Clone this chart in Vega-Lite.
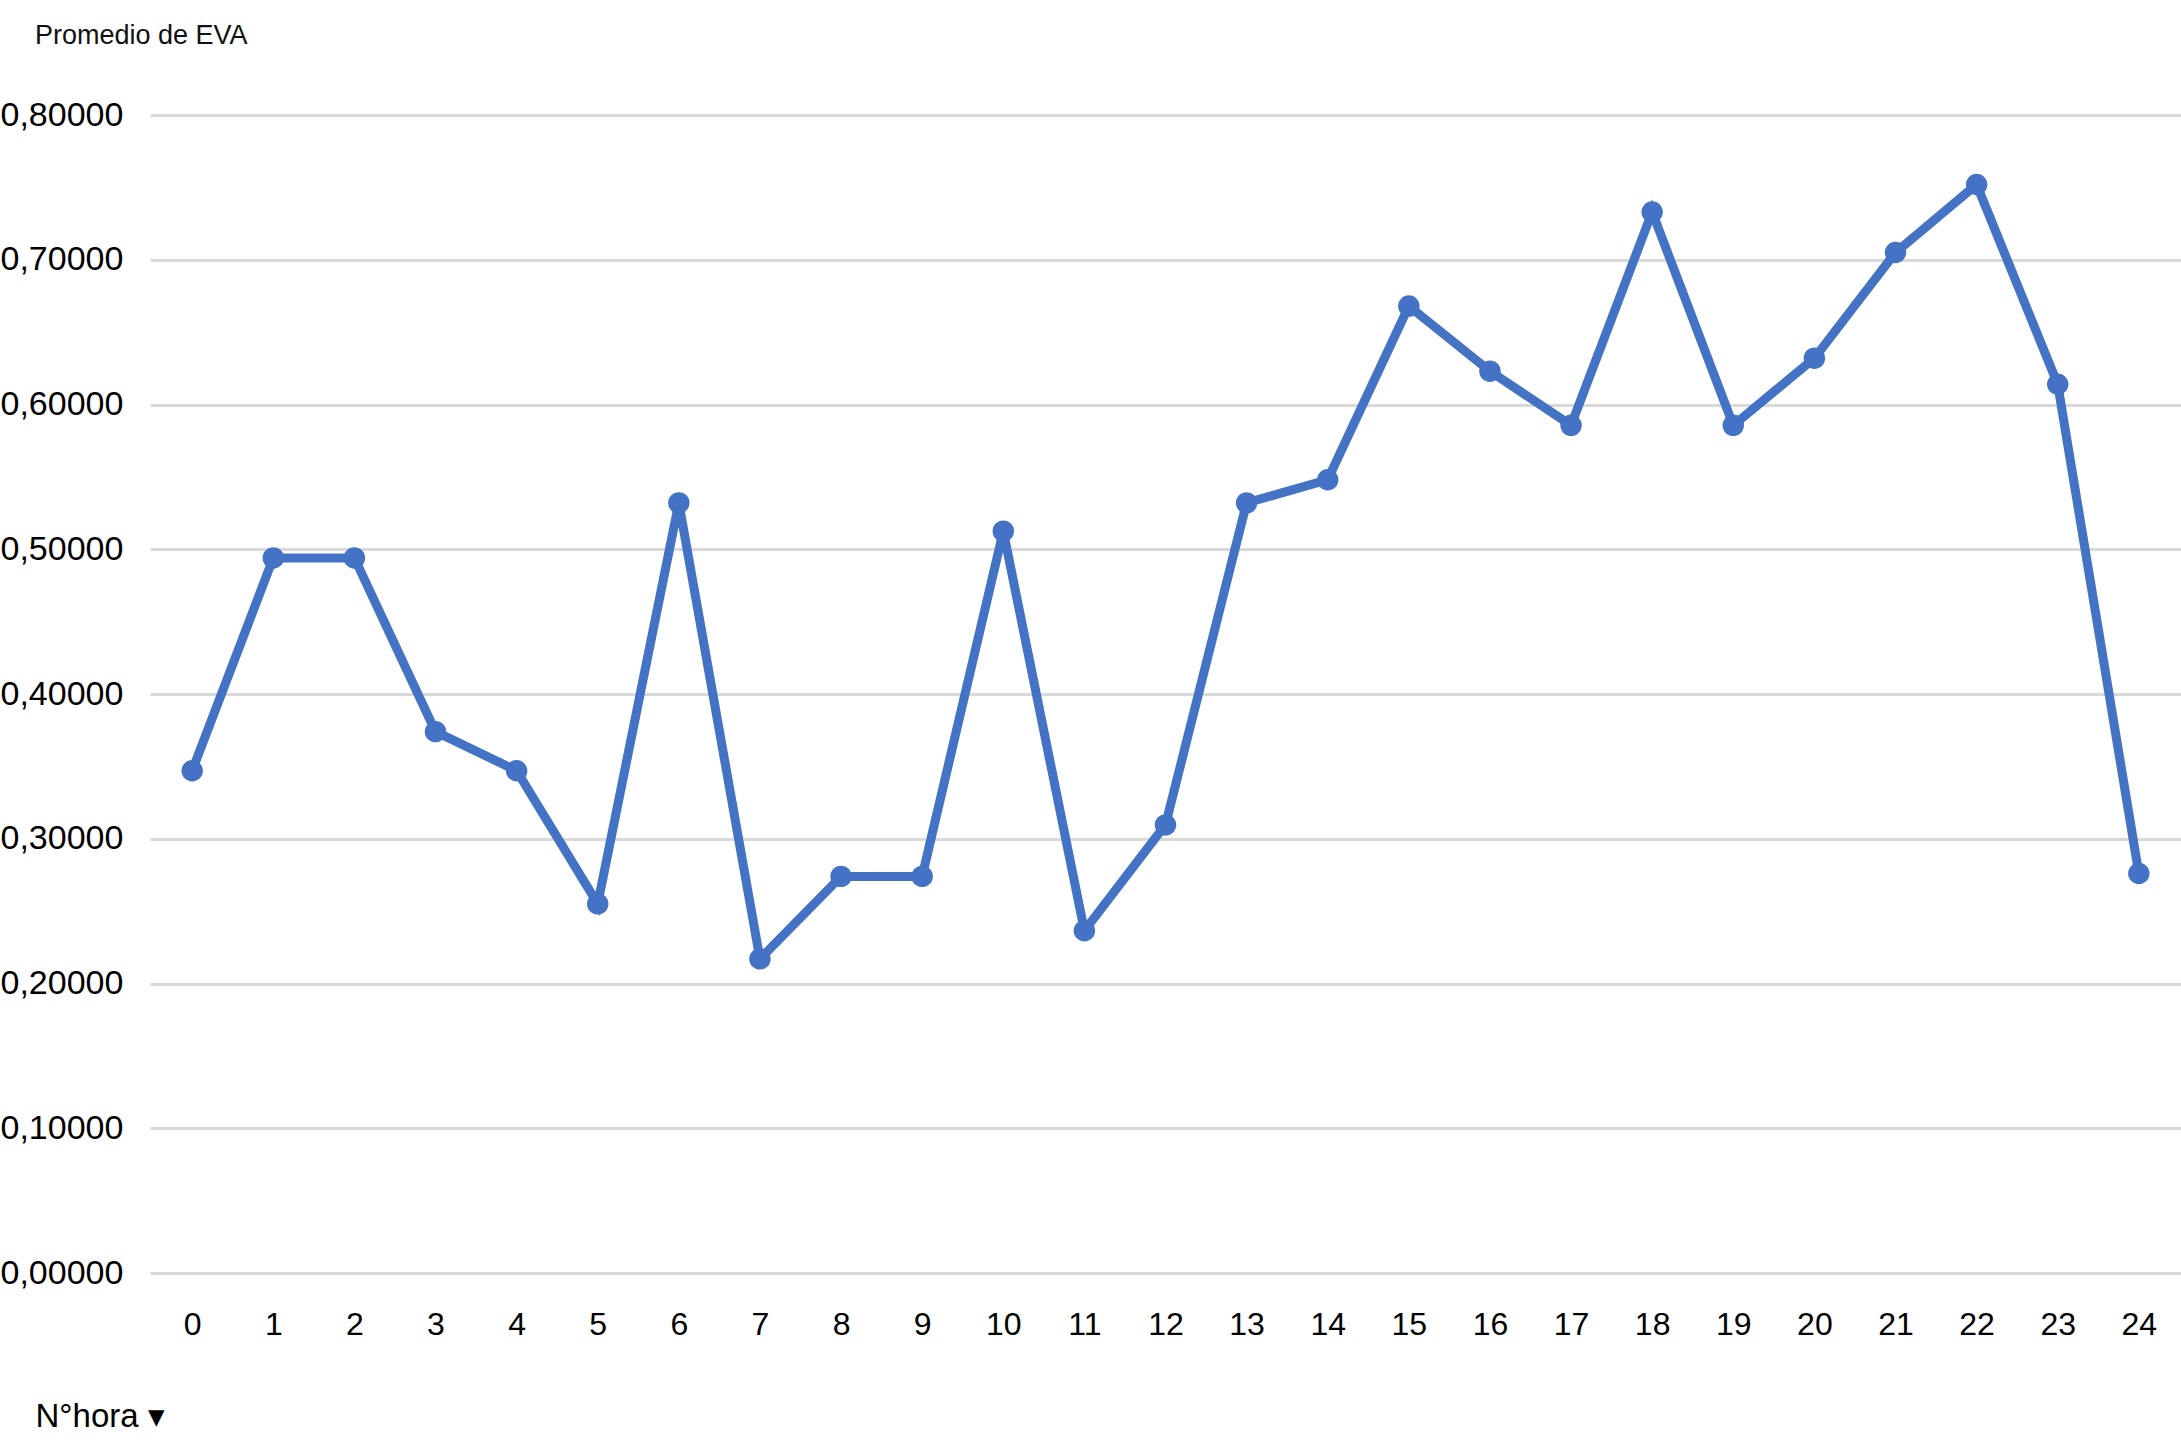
{
  "$schema": "https://vega.github.io/schema/vega-lite/v6.json",
  "width": 2031,
  "height": 1158,
  "autosize": {"type": "none"},
  "padding": {"left": 150, "top": 115, "right": 0, "bottom": 180},
  "background": "white",
  "config": {
    "view": {"stroke": null},
    "font": "Liberation Sans",
    "locale": {"number": {"decimal": ",", "thousands": ".", "grouping": [3], "currency": ["", " €"]}}
  },
  "title": {
    "text": "Promedio de EVA",
    "anchor": "start",
    "frame": "group",
    "dx": -115,
    "offset": 27,
    "baseline": "alphabetic",
    "fontSize": 27,
    "fontWeight": "normal",
    "color": "#111111",
    "font": "Liberation Sans"
  },
  "data": {
    "values": [
      {"hora": 0, "eva": 0.347},
      {"hora": 1, "eva": 0.494},
      {"hora": 2, "eva": 0.494},
      {"hora": 3, "eva": 0.374},
      {"hora": 4, "eva": 0.347},
      {"hora": 5, "eva": 0.255},
      {"hora": 6, "eva": 0.532},
      {"hora": 7, "eva": 0.217},
      {"hora": 8, "eva": 0.274},
      {"hora": 9, "eva": 0.274},
      {"hora": 10, "eva": 0.5125},
      {"hora": 11, "eva": 0.2365},
      {"hora": 12, "eva": 0.3096},
      {"hora": 13, "eva": 0.532},
      {"hora": 14, "eva": 0.548},
      {"hora": 15, "eva": 0.668},
      {"hora": 16, "eva": 0.623},
      {"hora": 17, "eva": 0.5856},
      {"hora": 18, "eva": 0.733},
      {"hora": 19, "eva": 0.5856},
      {"hora": 20, "eva": 0.632},
      {"hora": 21, "eva": 0.705},
      {"hora": 22, "eva": 0.752},
      {"hora": 23, "eva": 0.614},
      {"hora": 24, "eva": 0.276}
    ]
  },
  "encoding": {
    "x": {
      "field": "hora",
      "type": "quantitative",
      "scale": {"domain": [-0.52, 24.52], "nice": false, "zero": false},
      "axis": {
        "values": [0,1,2,3,4,5,6,7,8,9,10,11,12,13,14,15,16,17,18,19,20,21,22,23,24],
        "format": "d",
        "grid": false,
        "domain": false,
        "ticks": false,
        "labelFontSize": 32,
        "labelPadding": 36,
        "labelColor": "#000000",
        "labelFont": "Liberation Sans",
        "title": "N°hora ▾",
        "titleFontSize": 33,
        "titleFontWeight": "normal",
        "titleColor": "#000000",
        "titleAnchor": "start",
        "titleAlign": "left",
        "titleBaseline": "alphabetic",
        "titleX": -115,
        "titleY": 153
      }
    },
    "y": {
      "field": "eva",
      "type": "quantitative",
      "scale": {"domain": [0, 0.8], "nice": false},
      "axis": {
        "values": [0, 0.1, 0.2, 0.3, 0.4, 0.5, 0.6, 0.7, 0.8],
        "format": ".5f",
        "grid": true,
        "gridColor": "#d9d9d9",
        "gridWidth": 3,
        "domain": false,
        "ticks": false,
        "labelAlign": "left",
        "labelPadding": 150,
        "labelFontSize": 34,
        "labelColor": "#000000",
        "labelFont": "Liberation Sans",
        "title": null
      }
    }
  },
  "layer": [
    {"mark": {"type": "line", "color": "#4472C4", "strokeWidth": 9}},
    {"mark": {"type": "point", "filled": true, "color": "#4472C4", "opacity": 1, "size": 460, "shape": "circle"}}
  ]
}
